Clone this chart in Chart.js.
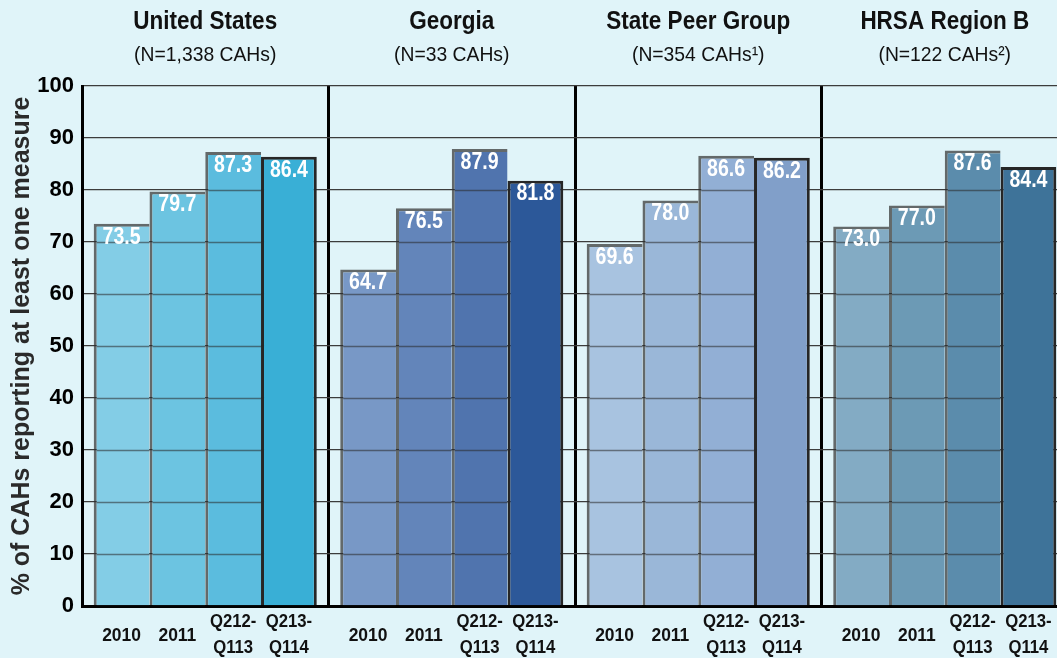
<!DOCTYPE html>
<html>
<head>
<meta charset="utf-8">
<script src="https://cdn.jsdelivr.net/npm/chart.js@4"></script>
<style>
  html, body { margin: 0; padding: 0; background: #e0f4f9; overflow: hidden; }
  #wrap { width: 1070px; height: 658px; }
</style>
</head>
<body>
<div id="wrap"><canvas id="cahChart"></canvas></div>
<script>
// Panels (one per comparison group)
const panels = ['United States', 'Georgia', 'State Peer Group', 'HRSA Region B'];
const panelNotes = ['(N=1,338 CAHs)', '(N=33 CAHs)', '(N=354 CAHs\u00B9)', '(N=122 CAHs\u00B2)'];

// Reporting periods (one dataset each)
const periods = [['2010'], ['2011'], ['Q212-', 'Q113'], ['Q213-', 'Q114']];

// % of CAHs reporting at least one measure, per panel
const values2010 = [73.5, 64.7, 69.6, 73.0];
const values2011 = [79.7, 76.5, 78.0, 77.0];
const valuesQ212 = [87.3, 87.9, 86.6, 87.6];
const valuesQ213 = [86.4, 81.8, 86.2, 84.4];

// bar colours: [period][panel]
const colors2010 = ['#83cde6', '#7898c6', '#a8c3e0', '#83abc4'];
const colors2011 = ['#6cc4e1', '#6385ba', '#9ab7d8', '#6c9ab5'];
const colorsQ212 = ['#5bbcde', '#5074ae', '#92afd5', '#5b8cac'];
const colorsQ213 = ['#39afd6', '#2c5899', '#819fc9', '#3e7399'];

const yMin = 0, yMax = 100, yStep = 10;

const FONT = "'Liberation Sans', Arial, sans-serif";

const seriesValues = [values2010, values2011, valuesQ212, valuesQ213];
const seriesColors = [colors2010, colors2011, colorsQ212, colorsQ213];

const datasets = seriesValues.map((vals, i) => ({
    label: periods[i].join(' '),
    data: vals,
    backgroundColor: seriesColors[i],
    borderColor: i === 3 ? '#262626' : 'rgba(45,45,45,0.7)',
    borderWidth: i === 3 ? { top: 3, left: 3, right: 3, bottom: 0 } : { top: 3, left: 3, right: 0, bottom: 0 },
    borderSkipped: false,
    categoryPercentage: 0.905,
    barPercentage: 1.0
}));

// squeeze text a little so it reads like a condensed face
function narrowText(ctx, text, x, y, sx) {
    ctx.save();
    ctx.translate(x, y);
    ctx.scale(sx, 1);
    ctx.fillText(text, 0, 0);
    ctx.restore();
}

// grid lines show through the first three bars of every panel, values inside, period labels below
const barExtras = {
    id: 'barExtras',
    afterDatasetsDraw(chart) {
        const ctx = chart.ctx;
        const yScale = chart.scales.y;
        ctx.save();
        // grid lines over bars
        ctx.strokeStyle = 'rgba(40,40,40,0.55)';
        ctx.lineWidth = 1.3;
        for (let d = 0; d < 3; d++) {
            chart.getDatasetMeta(d).data.forEach((bar, j) => {
                const v = seriesValues[d][j];
                for (let t = yMin + yStep; t < v; t += yStep) {
                    const y = Math.round(yScale.getPixelForValue(t)) + 0.5;
                    ctx.beginPath();
                    ctx.moveTo(bar.x - bar.width / 2 + 3, y);
                    ctx.lineTo(bar.x + bar.width / 2, y);
                    ctx.stroke();
                }
            });
        }
        // value labels
        ctx.fillStyle = '#ffffff';
        ctx.font = 'bold 23px ' + FONT;
        ctx.textAlign = 'center';
        ctx.textBaseline = 'middle';
        seriesValues.forEach((vals, d) => {
            chart.getDatasetMeta(d).data.forEach((bar, j) => {
                narrowText(ctx, vals[j].toFixed(1), bar.x, bar.y + 13.5, 0.85);
            });
        });
        // period labels under the axis
        ctx.fillStyle = '#111111';
        ctx.font = 'bold 19px ' + FONT;
        periods.forEach((lines, d) => {
            chart.getDatasetMeta(d).data.forEach(bar => {
                if (lines.length === 1) {
                    narrowText(ctx, lines[0], bar.x, 636, 0.92);
                } else {
                    narrowText(ctx, lines[0], bar.x, 621.5, 0.88);
                    narrowText(ctx, lines[1], bar.x, 647.5, 0.88);
                }
            });
        });
        // panel titles
        const xScale = chart.scales.x;
        panels.forEach((name, i) => {
            const cx = xScale.getPixelForValue(i);
            ctx.font = 'bold 25px ' + FONT;
            narrowText(ctx, name, cx, 22, 0.9);
            ctx.font = '21px ' + FONT;
            narrowText(ctx, panelNotes[i], cx, 55, 0.92);
        });
        ctx.restore();
    }
};

new Chart(document.getElementById('cahChart'), {
    type: 'bar',
    data: { labels: panels, datasets: datasets },
    options: {
        responsive: true,
        maintainAspectRatio: false,
        animation: false,
        layout: { padding: { top: 86, right: 2, left: 0, bottom: 0 } },
        plugins: {
            legend: { display: false },
            tooltip: { enabled: false }
        },
        scales: {
            x: {
                type: 'category',
                offset: true,
                grid: { offset: true, color: '#000000', lineWidth: 3, drawTicks: false },
                border: { display: true, color: '#000000', width: 3 },
                ticks: { display: false },
                afterFit: (scale) => { scale.height = 52; }
            },
            y: {
                min: yMin,
                max: yMax,
                ticks: {
                    stepSize: yStep,
                    color: '#000000',
                    padding: 8,
                    font: { family: FONT, size: 22, weight: 'bold' }
                },
                grid: { color: '#3c3c3c', lineWidth: 1.3, drawTicks: false },
                border: { display: true, color: '#000000', width: 3 },
                title: {
                    display: true,
                    text: '% of CAHs reporting at least one measure',
                    color: '#2a2a2a',
                    font: { family: FONT, size: 25, weight: 'bold' },
                    padding: { top: 7, bottom: 0 }
                },
                afterFit: (scale) => { scale.width = 82; }
            }
        }
    },
    plugins: [barExtras]
});
</script>
</body>
</html>
